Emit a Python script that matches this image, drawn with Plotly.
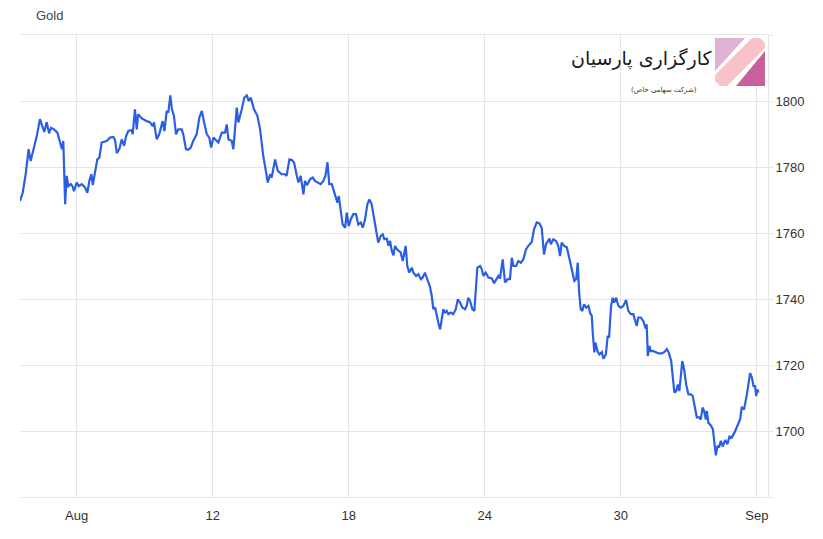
import plotly.graph_objects as go

# ---- data (time in days: tick "Aug"=6, 12, 18, 24, 30, "Sep"=36) ----
day = [
    3.50, 3.62, 3.76, 3.88, 3.97, 4.09, 4.24, 4.38, 4.53, 4.57,
    4.68, 4.78, 4.87, 5.00, 5.15, 5.26, 5.35, 5.41, 5.49, 5.56,
    5.63, 5.74, 5.82, 5.88, 6.00, 6.09, 6.22, 6.37, 6.47, 6.56,
    6.65, 6.71, 6.81, 6.91, 7.00, 7.10, 7.32, 7.47, 7.62, 7.69,
    7.77, 7.88, 7.99, 8.09, 8.18, 8.28, 8.43, 8.47, 8.57, 8.65,
    8.71, 8.87, 9.09, 9.23, 9.35, 9.41, 9.53, 9.64, 9.79, 9.87,
    9.97, 10.04, 10.13, 10.20, 10.29, 10.38, 10.48, 10.63, 10.70, 10.82,
    10.92, 11.03, 11.14, 11.29, 11.41, 11.52, 11.62, 11.74, 11.85, 11.93,
    12.03, 12.15, 12.25, 12.40, 12.54, 12.62, 12.69, 12.84, 12.91, 13.06,
    13.13, 13.28, 13.39, 13.50, 13.59, 13.68, 13.73, 13.82, 13.97, 14.09,
    14.23, 14.34, 14.43, 14.53, 14.60, 14.75, 14.87, 15.04, 15.19, 15.26,
    15.38, 15.49, 15.59, 15.71, 15.78, 15.88, 16.00, 16.07, 16.17, 16.29,
    16.41, 16.51, 16.66, 16.76, 16.88, 16.97, 17.06, 17.14, 17.25, 17.32,
    17.44, 17.50, 17.56, 17.65, 17.73, 17.84, 17.91, 18.00, 18.09, 18.20,
    18.32, 18.42, 18.53, 18.62, 18.72, 18.82, 18.91, 19.01, 19.12, 19.23,
    19.30, 19.41, 19.50, 19.57, 19.68, 19.75, 19.82, 19.90, 19.97, 20.04,
    20.12, 20.22, 20.29, 20.38, 20.44, 20.51, 20.58, 20.67, 20.78, 20.85,
    20.97, 21.07, 21.18, 21.26, 21.36, 21.47, 21.59, 21.66, 21.73, 21.81,
    21.88, 21.95, 22.03, 22.10, 22.17, 22.25, 22.32, 22.39, 22.50, 22.61,
    22.72, 22.81, 22.91, 23.01, 23.13, 23.20, 23.27, 23.35, 23.45, 23.54,
    23.61, 23.67, 23.79, 23.87, 23.94, 24.04, 24.16, 24.31, 24.41, 24.50,
    24.60, 24.67, 24.79, 24.89, 25.01, 25.11, 25.19, 25.26, 25.38, 25.48,
    25.59, 25.70, 25.82, 25.92, 26.07, 26.17, 26.29, 26.41, 26.51, 26.61,
    26.70, 26.85, 26.91, 27.02, 27.14, 27.24, 27.32, 27.39, 27.50, 27.62,
    27.73, 27.84, 27.95, 28.03, 28.10, 28.16, 28.23, 28.30, 28.38, 28.47,
    28.57, 28.64, 28.72, 28.76, 28.83, 28.88, 28.97, 29.05, 29.16, 29.23,
    29.34, 29.42, 29.48, 29.57, 29.64, 29.70, 29.79, 29.89, 30.00, 30.11,
    30.23, 30.33, 30.44, 30.55, 30.63, 30.70, 30.77, 30.88, 30.99, 31.10,
    31.14, 31.19, 31.26, 31.32, 31.44, 31.55, 31.67, 31.81, 31.91, 32.03,
    32.11, 32.22, 32.29, 32.36, 32.44, 32.51, 32.58, 32.66, 32.71, 32.79,
    32.88, 32.98, 33.09, 33.17, 33.27, 33.35, 33.46, 33.53, 33.60, 33.67,
    33.75, 33.79, 33.86, 33.97, 34.06, 34.11, 34.19, 34.26, 34.33, 34.41,
    34.50, 34.60, 34.70, 34.79, 34.89, 35.01, 35.14, 35.26, 35.33, 35.44,
    35.56, 35.63, 35.70, 35.78, 35.85, 35.92, 35.97, 36.02, 36.07,
]

gold = [
    1769.7, 1772.2, 1778.3, 1785.4, 1781.8, 1784.8, 1789.4, 1794.5, 1791.4, 1790.6,
    1793.6, 1790.2, 1791.9, 1791.4, 1790.4, 1787.4, 1785.4, 1787.9, 1768.7, 1777.3,
    1774.2, 1774.8, 1774.1, 1772.7, 1775.3, 1774.2, 1774.8, 1773.8, 1772.2, 1775.8,
    1777.8, 1774.5, 1778.8, 1782.3, 1782.8, 1787.4, 1787.9, 1788.9, 1789.1, 1788.2,
    1784.2, 1785.4, 1788.4, 1786.4, 1789.4, 1790.9, 1791.2, 1789.9, 1797.5, 1791.4,
    1796.0, 1794.7, 1793.9, 1793.6, 1792.4, 1793.5, 1788.4, 1789.9, 1793.9, 1790.9,
    1797.0, 1796.5, 1801.7, 1797.5, 1795.5, 1789.9, 1791.4, 1791.4, 1789.9, 1785.4,
    1785.2, 1785.9, 1787.9, 1789.9, 1795.0, 1797.0, 1793.5, 1789.9, 1788.9, 1785.9,
    1788.9, 1787.9, 1787.4, 1790.4, 1790.4, 1792.9, 1788.4, 1787.9, 1785.4, 1798.0,
    1793.5, 1797.5, 1801.0, 1801.7, 1800.0, 1801.0, 1799.5, 1797.5, 1795.5, 1791.4,
    1783.3, 1779.3, 1775.3, 1777.8, 1776.8, 1782.3, 1778.8, 1777.8, 1777.8, 1777.3,
    1782.3, 1782.1, 1781.3, 1777.3, 1775.3, 1777.3, 1771.7, 1775.8, 1774.5, 1776.3,
    1776.8, 1775.8, 1775.3, 1774.8, 1775.8, 1777.3, 1781.5, 1774.8, 1774.8, 1773.2,
    1771.2, 1769.2, 1771.2, 1767.2, 1762.6, 1761.6, 1766.2, 1762.1, 1764.2, 1765.7,
    1765.7, 1762.6, 1763.2, 1761.6, 1764.2, 1768.7, 1770.2, 1768.7, 1764.2, 1759.1,
    1757.1, 1759.1, 1759.6, 1758.1, 1758.3, 1756.1, 1757.6, 1754.5, 1753.2, 1756.1,
    1755.1, 1754.5, 1754.1, 1751.5, 1753.5, 1756.1, 1750.0, 1748.0, 1749.5, 1748.0,
    1747.0, 1747.5, 1746.0, 1746.5, 1748.0, 1746.0, 1743.5, 1740.9, 1736.9, 1737.4,
    1734.8, 1732.8, 1730.8, 1734.4, 1736.9, 1735.9, 1736.4, 1735.4, 1735.9, 1735.4,
    1736.9, 1739.9, 1738.9, 1737.4, 1736.9, 1737.9, 1740.4, 1739.4, 1736.9, 1736.4,
    1743.9, 1749.5, 1750.0, 1749.0, 1747.0, 1748.0, 1746.5, 1746.2, 1744.8, 1746.0,
    1747.0, 1746.2, 1752.0, 1745.0, 1746.0, 1746.0, 1752.5, 1750.0, 1750.0, 1751.5,
    1751.0, 1752.0, 1755.1, 1756.1, 1757.3, 1761.1, 1763.2, 1762.9, 1761.6, 1753.5,
    1756.6, 1758.3, 1756.6, 1758.1, 1757.6, 1756.1, 1753.0, 1757.1, 1756.1, 1755.6,
    1752.0, 1749.0, 1745.5, 1746.0, 1751.0, 1741.9, 1736.9, 1736.4, 1738.4, 1737.4,
    1737.9, 1735.9, 1734.8, 1729.8, 1723.8, 1726.8, 1724.2, 1723.2, 1723.9, 1721.9,
    1723.2, 1728.8, 1728.3, 1737.9, 1740.4, 1738.9, 1740.4, 1737.9, 1737.4, 1737.9,
    1739.7, 1736.4, 1735.4, 1735.4, 1733.3, 1731.8, 1734.4, 1734.4, 1733.3, 1731.0,
    1732.3, 1722.7, 1725.8, 1724.2, 1724.2, 1723.8, 1723.5, 1723.5, 1723.9, 1724.8,
    1723.8, 1721.2, 1715.7, 1711.6, 1712.1, 1714.1, 1712.1, 1718.7, 1721.2, 1718.7,
    1714.1, 1711.1, 1711.1, 1710.6, 1707.1, 1704.1, 1704.1, 1703.5, 1707.1, 1706.1,
    1703.5, 1706.1, 1702.5, 1701.7, 1700.5, 1697.0, 1692.6, 1695.5, 1695.0, 1697.0,
    1695.3, 1697.3, 1696.0, 1698.3, 1698.0, 1699.5, 1701.5, 1703.5, 1707.1, 1706.8,
    1711.1, 1715.2, 1717.5, 1716.2, 1713.6, 1713.6, 1710.6, 1712.6, 1711.6,
]

x_tick_vals = [6, 12, 18, 24, 30, 36]
x_tick_text = ["Aug", "12", "18", "24", "30", "Sep"]
y_tick_vals = [1680, 1700, 1720, 1740, 1760, 1780, 1800, 1820]
y_tick_text = ["", "1700", "1720", "1740", "1760", "1780", "1800", ""]

title_text = "Gold"
logo_title = "کارگزاری پارسیان"
logo_sub = "(شرکت سهامی خاص)"

# ---- layout geometry (page has an 8px body margin) ----
OFF = 8
W, H = 823 - OFF, 539 - OFF
ML, MR, MT, MB = 12, 55, 27, 42
PW, PH = W - ML - MR, H - MT - MB


def px(x):
    # page pixel x -> paper fraction
    return (x - OFF - ML) / PW


def py(y):
    # page pixel y -> paper fraction
    return (OFF + H - MB - y) / PH


def path(points):
    return "M " + " L ".join(f"{px(a):.5f},{py(b):.5f}" for a, b in points) + " Z"


grid = "#e6e6e6"

fig = go.Figure(
    go.Scatter(
        x=day, y=gold, mode="lines",
        line=dict(color="#2b5fe3", width=2.2),
        hoverinfo="x+y",
    )
)

fig.update_layout(
    width=W, height=H,
    margin=dict(l=ML, r=MR, t=MT, b=MB),
    paper_bgcolor="white", plot_bgcolor="white",
    showlegend=False,
    font=dict(family="Arial, 'Liberation Sans', sans-serif", size=13, color="#333333"),
)

fig.update_xaxes(
    range=[3.5, 36.49], tickmode="array", tickvals=x_tick_vals, ticktext=x_tick_text,
    showgrid=True, gridcolor=grid, gridwidth=1,
    showline=True, linecolor=grid, linewidth=1, mirror=True,
    ticks="outside", ticklen=6, tickcolor="rgba(0,0,0,0)",
    zeroline=False, fixedrange=True,
)
fig.update_yaxes(
    side="right", range=[1680, 1820], tickmode="array",
    tickvals=y_tick_vals, ticktext=y_tick_text,
    showgrid=True, gridcolor=grid, gridwidth=1,
    showline=True, linecolor=grid, linewidth=1,
    ticks="outside", ticklen=4, tickcolor=grid,
    zeroline=False, fixedrange=True,
)

# title
fig.add_annotation(
    text=title_text, xref="paper", yref="paper",
    x=px(34), y=py(15.5), xanchor="left", yanchor="middle",
    showarrow=False, font=dict(size=13, color="#444444"),
)

# logo squares
shapes = [
    dict(type="path", path=path([(715, 38), (745, 38), (715, 71)]),
         fillcolor="#dfb1d3", line=dict(width=0)),
    dict(type="path", path=path([(752, 38), (760, 38), (765, 43), (765, 48),
                                 (727, 86), (720, 86), (715, 81), (715, 75)]),
         fillcolor="#f8c3c8", line=dict(width=0)),
    dict(type="path", path=path([(765, 51), (765, 86), (736, 86)]),
         fillcolor="#c8609b", line=dict(width=0)),
]
for s in shapes:
    s.update(xref="paper", yref="paper", layer="above")
    fig.add_shape(**s)

fig.add_annotation(
    text=logo_title, xref="paper", yref="paper",
    x=px(642), y=py(58), xanchor="center", yanchor="middle",
    showarrow=False, font=dict(family="DejaVu Sans", size=19, color="#1a1a1a"),
)
fig.add_annotation(
    text=logo_sub, xref="paper", yref="paper",
    x=px(664), y=py(90), xanchor="center", yanchor="middle",
    showarrow=False, font=dict(family="DejaVu Sans", size=7, color="#333333"),
)

fig.write_html("out.html")
